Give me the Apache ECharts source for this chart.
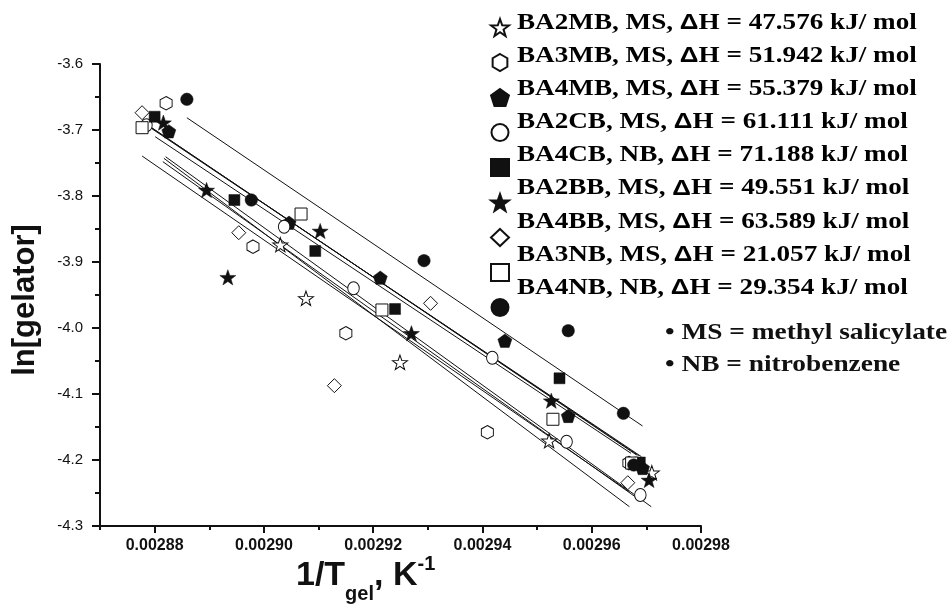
<!DOCTYPE html>
<html><head><meta charset="utf-8">
<script src="https://cdn.jsdelivr.net/npm/echarts@6/dist/echarts.min.js"></script>
<style>html,body{margin:0;padding:0;background:#fff}#c{width:948px;height:605px}</style>
</head><body><div id="c"></div>
<script>
// ---------- data ----------
const seriesNames = ['BA2MB', 'BA3MB', 'BA4MB', 'BA2CB', 'BA4CB', 'BA2BB', 'BA4BB', 'BA3NB', 'BA4NB'];
const solvents = ['MS', 'MS', 'MS', 'MS', 'NB', 'MS', 'MS', 'MS', 'NB'];
const deltaH = ['47.576', '51.942', '55.379', '61.111', '71.188', '49.551', '63.589', '21.057', '29.354'];
const notes = ['\u2022 MS = methyl salicylate', '\u2022 NB = nitrobenzene'];

const ba2mb = [[0.0029030, -3.8738], [0.0029077, -3.9550], [0.0029249, -4.0520], [0.0029522, -4.1708], [0.0029710, -4.2193]];
const ba3mb = [[0.0028821, -3.6595], [0.0028980, -3.8768], [0.0029150, -4.0080], [0.0029409, -4.1580], [0.0029668, -4.2046]];
const ba4mb = [[0.0028826, -3.7020], [0.0029046, -3.8405], [0.0029213, -3.9238], [0.0029441, -4.0193], [0.0029557, -4.1333], [0.0029693, -4.2121]];
const ba2cb = [[0.0028785, -3.6929], [0.0029037, -3.8465], [0.0029164, -3.9399], [0.0029418, -4.0450], [0.0029554, -4.1723], [0.0029689, -4.2530]];
const ba4cb = [[0.0028800, -3.6799], [0.0028946, -3.8061], [0.0029094, -3.8833], [0.0029240, -3.9712], [0.0029541, -4.0762], [0.0029688, -4.2038]];
const ba2bb = [[0.0028816, -3.6889], [0.0028895, -3.7909], [0.0028934, -3.9232], [0.0029103, -3.8530], [0.0029270, -4.0080], [0.0029526, -4.1102], [0.0029705, -4.2303]];
const ba4bb = [[0.0028777, -3.6738], [0.0028954, -3.8556], [0.0029129, -4.0874], [0.0029305, -3.9626], [0.0029666, -4.2344]];
const ba3nb = [[0.0028777, -3.6965], [0.0029068, -3.8273], [0.0029216, -3.9727], [0.0029529, -4.1383], [0.0029673, -4.2046]];
const ba4nb = [[0.0028859, -3.6535], [0.0028977, -3.8061], [0.0029293, -3.8980], [0.0029557, -4.0041], [0.0029658, -4.1293], [0.0029677, -4.2076]];

// fitted straight lines, one per series (start / end points)
const fitStartX = [0.0028815, 0.0028777, 0.0028780, 0.0028820, 0.0028792, 0.0028801, 0.0028817, 0.0028786, 0.0028859];
const fitStartY = [-3.7480, -3.7394, -3.6898, -3.7405, -3.6950, -3.7102, -3.7429, -3.6920, -3.6814];
const fitEndX   = [0.0029688, 0.0029669, 0.0029691, 0.0029709, 0.0029682, 0.0029672, 0.0029669, 0.0029686, 0.0029693];
const fitEndY   = [-4.2606, -4.2481, -4.1950, -4.2708, -4.1924, -4.1899, -4.2708, -4.1935, -4.1485];

const xTicks = [0.00288, 0.00290, 0.00292, 0.00294, 0.00296, 0.00298];
const xMinorTicks = [0.00287, 0.00289, 0.00291, 0.00293, 0.00295, 0.00297];
const yTicks = [-4.3, -4.2, -4.1, -4.0, -3.9, -3.8, -3.7, -3.6];
const yMinorTicks = [-4.25, -4.15, -4.05, -3.95, -3.85, -3.75, -3.65];

// ---------- styling ----------
const INK = '#111111';
const STAR = 'path://M10 0 L12.351 6.764 L19.511 6.910 L13.804 11.236 L15.878 18.090 L10 14 L4.122 18.090 L6.196 11.236 L0.489 6.910 L7.649 6.764 Z';
const HEX = 'path://M8.66 0 L17.32 5 L17.32 15 L8.66 20 L0 15 L0 5 Z';
const PENT = 'path://M10 0 L19.511 6.910 L15.878 18.090 L4.122 18.090 L0.489 6.910 Z';
const allData = [ba2mb, ba3mb, ba4mb, ba2cb, ba4cb, ba2bb, ba4bb, ba3nb, ba4nb];
const markers = [
  {symbol: STAR, size: [15, 14.3], filled: false},
  {symbol: HEX, size: [12, 13.5], filled: false},
  {symbol: PENT, size: [14, 13.3], filled: true},
  {symbol: 'circle', size: [11.5, 13], filled: false},
  {symbol: 'rect', size: 11, filled: true},
  {symbol: STAR, size: [16, 15.2], filled: true},
  {symbol: 'diamond', size: [14, 14], filled: false},
  {symbol: 'rect', size: 12, filled: false},
  {symbol: 'circle', size: 12.5, filled: true}
];

const series = [];
seriesNames.forEach((n, i) => {
  series.push({
    type: 'line', name: 'fit ' + n, silent: true, symbol: 'none', z: 2,
    data: [[fitStartX[i], fitStartY[i]], [fitEndX[i], fitEndY[i]]],
    lineStyle: {color: INK, width: 1, opacity: 1}
  });
});
seriesNames.forEach((n, i) => {
  const m = markers[i];
  series.push({
    type: 'scatter', name: n, z: 5, data: allData[i],
    symbol: m.symbol, symbolSize: m.size,
    itemStyle: m.filled ? {color: INK, borderColor: INK, borderWidth: 0.5, opacity: 1}
                        : {color: '#ffffff', borderColor: INK, borderWidth: 1, opacity: 1}
  });
});

// ---------- titles built from text pieces ----------
const ctx = document.createElement('canvas').getContext('2d');
function tw(font, t) { ctx.font = font; return ctx.measureText(t).width; }
const BIG = 'bold 34px "Liberation Sans"';
const SMALL = 'bold 20px "Liberation Sans"';
// [text, font, vertical middle]
const xTitleParts = [['1/T', BIG, 576], ['gel', SMALL, 594], [', K', BIG, 576], ['-1', SMALL, 564]];
let cx = 296;
const graphics = [];
xTitleParts.forEach(p => {
  graphics.push({type: 'text', x: cx, y: p[2], silent: true,
    style: {text: p[0], font: p[1], fill: INK, textAlign: 'left', textVerticalAlign: 'middle', align: 'left', verticalAlign: 'middle'}});
  cx += tw(p[1], p[0]);
});
graphics.push({type: 'text', x: 25, y: 300, rotation: Math.PI / 2, silent: true,
  style: {text: 'ln[gelator]', font: 'bold 31px "Liberation Sans"', fill: INK,
    textAlign: 'center', textVerticalAlign: 'middle', align: 'center', verticalAlign: 'middle'}});
const legRich = {
  s: {fontFamily: 'Liberation Serif', fontWeight: 'bold', fontSize: 23, color: INK},
  d: {fontFamily: 'Liberation Sans', fontWeight: 'bold', fontSize: 22, color: INK}
};
seriesNames.forEach((n, i) => {
  graphics.push({type: 'text', x: 517, y: 23 + i * 33.1, scaleX: 1.18, silent: true,
    style: {text: '{s|' + n + ', ' + solvents[i] + ', }{d|\u0394}{s|H = ' + deltaH[i] + ' kJ/ mol}',
      rich: legRich, textAlign: 'left', textVerticalAlign: 'middle', align: 'left', verticalAlign: 'middle'}});
});
notes.forEach((t, i) => {
  graphics.push({type: 'text', x: 665, y: 333 + i * 32, scaleX: 1.19, silent: true,
    style: {text: t, font: 'bold 23px "Liberation Serif"', fill: INK,
      textAlign: 'left', textVerticalAlign: 'middle', align: 'left', verticalAlign: 'middle'}});
});

const axisCommon = {
  axisLine: {show: true, onZero: false, lineStyle: {color: INK, width: 2}},
  splitLine: {show: false}
};
const chart = echarts.init(document.getElementById('c'), null, {renderer: 'canvas'});
chart.setOption({
  animation: false,
  backgroundColor: '#ffffff',
  grid: {left: 100, right: 247, top: 64, bottom: 79, containLabel: false},
  legend: {
    orient: 'vertical', left: 485, top: 13, itemWidth: 18, itemHeight: 17, itemGap: 16,
    selectedMode: false, data: seriesNames, formatter: () => '', textStyle: {fontSize: 2}
  },
  xAxis: [
    Object.assign({type: 'value', min: 0.00287, max: 0.00298, position: 'bottom',
      axisTick: {show: true, customValues: xTicks, length: 7, lineStyle: {color: INK, width: 2}},
      axisLabel: {customValues: xTicks, formatter: v => v.toFixed(5), fontFamily: 'Liberation Sans',
        fontWeight: 'bold', fontSize: 16, color: INK, margin: 12}}, axisCommon),
    {type: 'value', min: 0.00287, max: 0.00298, position: 'bottom',
      axisLine: {show: false}, splitLine: {show: false}, axisLabel: {show: false},
      axisTick: {show: true, customValues: xMinorTicks, length: 4, lineStyle: {color: INK, width: 2}}}
  ],
  yAxis: [
    Object.assign({type: 'value', min: -4.3, max: -3.6, position: 'left',
      axisTick: {show: true, customValues: yTicks, length: 8, lineStyle: {color: INK, width: 2}},
      axisLabel: {customValues: yTicks, formatter: v => v.toFixed(1), fontFamily: 'Liberation Sans',
        fontSize: 15, color: INK, margin: 17}}, axisCommon),
    {type: 'value', min: -4.3, max: -3.6, position: 'left',
      axisLine: {show: false}, splitLine: {show: false}, axisLabel: {show: false},
      axisTick: {show: true, customValues: yMinorTicks, length: 5, lineStyle: {color: INK, width: 2}}}
  ],
  graphic: graphics,
  series: series
});
</script></body></html>
